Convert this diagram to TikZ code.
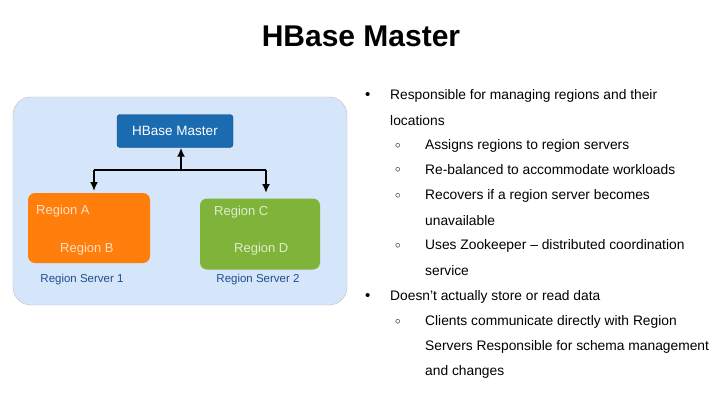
\documentclass[tikz,border=0pt]{standalone}
\usepackage{fontspec}
\usetikzlibrary{arrows.meta}
\setmainfont{Liberation Sans}
\definecolor{outerc}{HTML}{D6E6FA}
\definecolor{masterc}{HTML}{1B6BB0}
\definecolor{orc}{HTML}{FF7E0C}
\definecolor{grc}{HTML}{7FB33A}
\definecolor{labc}{HTML}{1F4E8C}
\begin{document}
\begin{tikzpicture}[x=1pt,y=-1pt,
 box/.style={rounded corners=7pt,inner sep=0pt},
 rt/.style={anchor=west,font=\fontsize{13.8}{16}\selectfont,inner sep=0pt},
 wt/.style={text=white,text opacity=0.75,anchor=west,font=\fontsize{13}{15}\selectfont,inner sep=0pt},
 lab/.style={text=labc,font=\fontsize{11.5}{13}\selectfont,inner sep=0pt},
 arr/.style={line width=1.8pt,-{Latex[length=9pt,width=8pt]}}]
\useasboundingbox (0,0) rectangle (720,404);
\fill[white] (0,0) rectangle (720,404);
\node[font=\bfseries\fontsize{30}{34}\selectfont] (title) at (361,36) {HBase Master};
\node[box,draw=gray!50,fill=outerc,minimum width=334pt,minimum height=208pt,rounded corners=18pt] (outer) at (180,201) {};
\node[box,fill=masterc,draw=masterc!70!black,minimum width=116pt,minimum height=33pt,text=white,font=\fontsize{13.5}{15}\selectfont,rounded corners=3pt] (hm) at (175,131) {HBase Master};
\node[box,fill=orc,minimum width=122pt,minimum height=70pt] (r1) at (89,228) {};
\node[box,fill=grc,minimum width=120pt,minimum height=71pt] (r2) at (260,234) {};
\node[wt] (ra) at (36,211) {Region A};
\node[wt] (rb) at (60,249) {Region B};
\node[wt] (rc) at (214,212) {Region C};
\node[wt] (rd) at (234,249) {Region D};
\node[lab] (s1) at (82,280) {Region Server 1};
\node[lab] (s2) at (258,280) {Region Server 2};
\coordinate (j) at (181,170);
\coordinate (jl) at (94,170);
\coordinate (jr) at (266,170);
\draw[arr] (j) -- (hm.south -| j);
\draw[line width=1.8pt] (jl) -- (jr);
\draw[arr] (jl) -- (94,191);
\draw[arr] (jr) -- (266,193);
\foreach \y in {96,297}
  \node[rt,font=\fontsize{15}{16}\selectfont] at (365,\y) {\textbullet};
\foreach \y/\t in {96/Responsible for managing regions and their,121/locations,297/Doesn't actually store or read data}
  \node[rt] at (390,\y) {\t};
\foreach \y in {146,170,196,246,322}
  \node[rt,font=\fontsize{11}{12}\selectfont] at (395,\y) {$\circ$};
\foreach \y/\t in {146/Assigns regions to region servers,170/Re-balanced to accommodate workloads,196/Recovers if a region server becomes,221/unavailable,246/Uses Zookeeper – distributed coordination,271/service,322/Clients communicate directly with Region,347/Servers Responsible for schema management,372/and changes}
  \node[rt] at (425,\y) {\t};
\end{tikzpicture}
\end{document}
